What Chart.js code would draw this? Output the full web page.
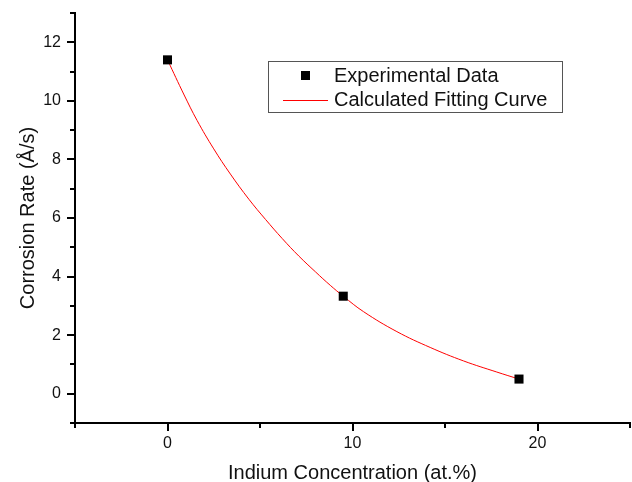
<!DOCTYPE html>
<html>
<head>
<meta charset="utf-8">
<script src="https://cdn.jsdelivr.net/npm/chart.js@4"></script>
<style>
  html, body { margin: 0; padding: 0; background: #fff; }
  #wrap { width: 632px; height: 482px; }
</style>
</head>
<body>
<div id="wrap"><canvas id="ChartCorr" width="632" height="482"></canvas></div>
<script>
// measured points
const expX = [0, 9.5, 19];
const expY = [11.4, 3.33, 0.5];
// fitting curve
const fitX = [0, 0.9, 1.6, 2.5, 3.4, 4.4, 5.3, 6.2, 7.1, 8.0, 8.8, 9.5, 10.6, 12.4, 14.2, 16.0, 17.8, 19];
const fitY = [11.4, 10.2, 9.33, 8.36, 7.5, 6.64, 5.95, 5.3, 4.7, 4.16, 3.70, 3.33, 2.8, 2.12, 1.58, 1.12, 0.74, 0.5];
const xTicks = [-5, 0, 5, 10, 15, 20, 25];
const yTicks = [-1, 0, 1, 2, 3, 4, 5, 6, 7, 8, 9, 10, 11, 12, 13];
const legendLabels = ['Experimental Data', 'Calculated Fitting Curve'];

const fontName = '"Liberation Sans", Arial, sans-serif';

// ticks of two lengths, outside the axes
const tickMarks = {
    id: 'tickMarks',
    afterDraw(chart) {
        const c = chart.ctx;
        const xs = chart.scales.x, ys = chart.scales.y;
        const area = chart.chartArea;
        c.save();
        c.strokeStyle = '#000';
        c.lineWidth = 2;
        xTicks.forEach(v => {
            const px = Math.round(xs.getPixelForValue(v));
            const len = v % 10 === 0 ? 8 : 5;
            c.beginPath();
            c.moveTo(px, area.bottom);
            c.lineTo(px, area.bottom + len);
            c.stroke();
        });
        yTicks.forEach(v => {
            const py = Math.round(ys.getPixelForValue(v));
            const len = v % 2 === 0 ? 8 : 5;
            c.beginPath();
            c.moveTo(area.left, py);
            c.lineTo(area.left - len, py);
            c.stroke();
        });
        c.restore();
    }
};

// boxed legend inside the plot
const boxLegend = {
    id: 'boxLegend',
    afterDraw(chart) {
        const c = chart.ctx;
        c.save();
        c.strokeStyle = '#555';
        c.lineWidth = 1;
        c.strokeRect(268.5, 61.5, 294, 51);
        c.fillStyle = '#000';
        c.fillRect(301, 71, 9, 9);
        c.strokeStyle = '#ff0000';
        c.beginPath();
        c.moveTo(283, 100.5);
        c.lineTo(328, 100.5);
        c.stroke();
        c.fillStyle = '#111';
        c.font = '20px ' + fontName;
        c.textBaseline = 'middle';
        c.fillText(legendLabels[0], 334, 76);
        c.fillText(legendLabels[1], 334, 100);
        c.restore();
    }
};

const ctx = document.getElementById('ChartCorr').getContext('2d');
const ChartCorr = new Chart(ctx, {
    type: 'scatter',
    data: {
        datasets: [{
            label: legendLabels[0],
            data: expX.map((x, i) => ({x: x, y: expY[i]})),
            pointStyle: 'rect',
            pointRadius: 6.4,
            backgroundColor: '#000',
            borderColor: '#000',
            borderWidth: 0,
            order: 1
        }, {
            label: legendLabels[1],
            data: fitX.map((x, i) => ({x: x, y: fitY[i]})),
            showLine: true,
            pointRadius: 0,
            borderColor: '#ff0000',
            borderWidth: 1,
            tension: 0.4,
            order: 2
        }]
    },
    options: {
        responsive: false,
        animation: false,
        layout: { autoPadding: false, padding: { top: 13, right: 2, left: 0, bottom: 0 } },
        plugins: {
            legend: { display: false },
            tooltip: { enabled: false }
        },
        scales: {
            x: {
                type: 'linear',
                min: -5,
                max: 25,
                afterFit(scale) {
                    scale.height = 59;
                    scale.paddingLeft = 0;
                    scale.paddingRight = 0;
                },
                afterBuildTicks(scale) { scale.ticks = xTicks.map(v => ({value: v})); },
                grid: { display: false, drawTicks: false },
                border: { display: true, color: '#000', width: 2 },
                ticks: {
                    padding: 11,
                    color: '#111',
                    font: { family: fontName, size: 16 },
                    callback: v => (v % 10 === 0 ? v : '')
                },
                title: {
                    display: true,
                    text: 'Indium Concentration (at.%)',
                    color: '#111',
                    font: { family: fontName, size: 20 },
                    padding: { top: 0, bottom: -3 }
                }
            },
            y: {
                type: 'linear',
                min: -1,
                max: 13,
                afterFit(scale) {
                    scale.width = 75;
                    scale.paddingTop = 0;
                    scale.paddingBottom = 0;
                },
                afterBuildTicks(scale) { scale.ticks = yTicks.map(v => ({value: v})); },
                grid: { display: false, drawTicks: false },
                border: { display: true, color: '#000', width: 2 },
                ticks: {
                    padding: 14,
                    color: '#111',
                    font: { family: fontName, size: 16 },
                    callback: v => (v % 2 === 0 ? v : '')
                },
                title: {
                    display: true,
                    text: 'Corrosion Rate (Å/s)',
                    color: '#111',
                    font: { family: fontName, size: 20 },
                    padding: { top: 16, bottom: 0 }
                }
            }
        }
    },
    plugins: [tickMarks, boxLegend]
});
</script>
</body>
</html>
